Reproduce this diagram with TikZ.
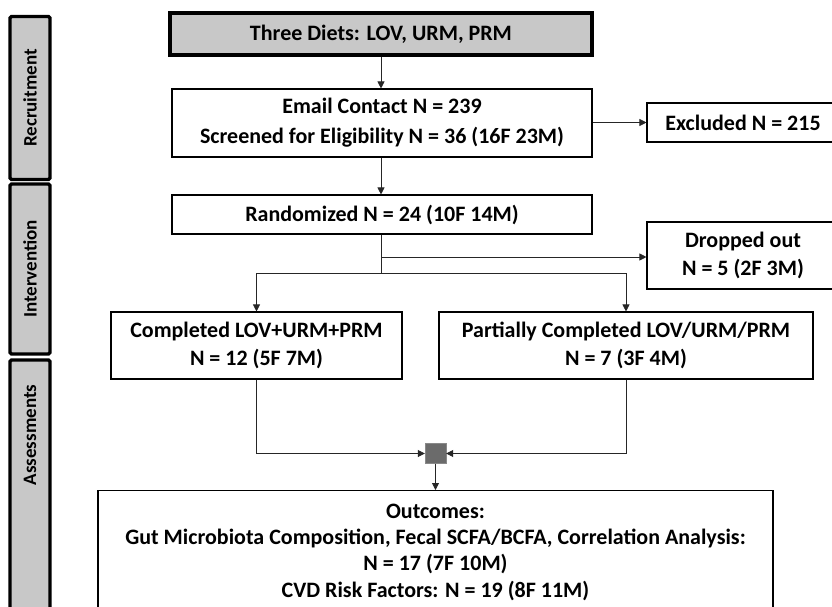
\documentclass[tikz,border=0pt]{standalone}
\usepackage{fontspec}
\setmainfont{Carlito}
\usetikzlibrary{arrows.meta}
\definecolor{boxgray}{HTML}{C8C8C8}
\definecolor{sqgray}{HTML}{6B6B6B}
\begin{document}
\begin{tikzpicture}[x=1pt,y=-1pt,
  every node/.style={font=\fontsize{22}{28}\selectfont\bfseries, inner sep=0pt, align=center},
  box/.style={draw, line width=1.1pt, fill=white},
  topbox/.style={draw, line width=3.2pt, fill=boxgray},
  sidebox/.style={draw, line width=3.2pt, fill=boxgray, rounded corners=1.5pt},
  sidetext/.style={rotate=90, font=\fontsize{19}{24}\selectfont\bfseries},
  conn/.style={line width=0.8pt, draw=black!85},
  arr/.style={conn, -{Triangle[length=7pt,width=7pt]}}
]
\clip (0,0) rectangle (832,607);
\fill[white] (0,0) rectangle (832,607);

% side labels
\node[sidebox, minimum width=40pt, minimum height=163pt] (rec) at (30,98) {};
\node[sidetext] (rect) at (rec.center) {Recruitment};
\node[sidebox, minimum width=40pt, minimum height=170pt] (int) at (30,269) {};
\node[sidetext] (intt) at (int.center) {Intervention};
\node[sidebox, minimum width=40pt, minimum height=262pt] (ass) at (30,491) {};
\node[sidetext] (asst) at (30,435) {Assessments};

% main boxes
\node[topbox, minimum width=422pt, minimum height=42pt] (diets) at (381,34) {Three Diets: LOV, URM, PRM};
\node[box, minimum width=420pt, minimum height=68pt, font=\fontsize{22}{30}\selectfont\bfseries] (email) at (382,123) {Email Contact N = 239\\Screened for Eligibility N = 36 (16F 23M)};
\node[box, minimum width=192pt, minimum height=39pt] (excl) at (743,122.5) {Excluded N = 215};
\node[box, minimum width=420pt, minimum height=39pt] (rand) at (382,214.5) {Randomized N = 24 (10F 14M)};
\node[box, minimum width=192pt, minimum height=67pt] (drop) at (743,255.5) {Dropped out\\N = 5 (2F 3M)};
\node[box, minimum width=291pt, minimum height=67pt] (comp) at (256.5,345.5) {Completed LOV+URM+PRM\\N = 12 (5F 7M)};
\node[box, minimum width=374pt, minimum height=67pt] (part) at (626,345.5) {Partially Completed LOV/URM/PRM\\N = 7 (3F 4M)};
\node[draw=sqgray!80!white, fill=sqgray, minimum width=21pt, minimum height=20pt] (sq) at (435.5,453.5) {};
\node[box, minimum width=675pt, minimum height=124pt, anchor=north] (out) at (435.5,490) {};
\node[font=\fontsize{22}{26.3}\selectfont\bfseries] (outt) at (435.5,552) {Outcomes:\\Gut Microbiota Composition, Fecal SCFA/BCFA, Correlation Analysis:\\N = 17 (7F 10M)\\CVD Risk Factors: N = 19 (8F 11M)};

% connectors
\coordinate (split) at (381,273);
\draw[arr] (diets.south -| 381,0) -- (email.north -| 381,0);
\draw[arr] (email.south -| 381,0) -- (rand.north -| 381,0);
\draw[arr] (email.east |- excl.west) -- (excl.west);
\draw[conn] (rand.south -| 381,0) -- (split);
\draw[arr] (381,257) -- (drop.west |- 0,257);
\draw[conn] (comp.north |- split) -- (part.north |- split);
\draw[arr] (comp.north |- split) -- (comp.north);
\draw[arr] (part.north |- split) -- (part.north);
\draw[arr] (comp.south) |- (sq.west);
\draw[arr] (part.south) |- (sq.east);
\draw[arr] (sq.south) -- (out.north);
\end{tikzpicture}
\end{document}
